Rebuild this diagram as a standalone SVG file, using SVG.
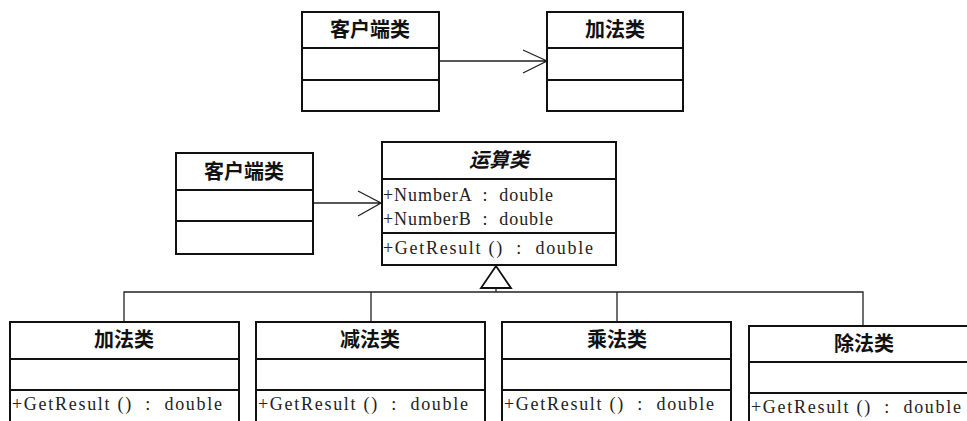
<svg xmlns="http://www.w3.org/2000/svg" width="967" height="421" viewBox="0 0 967 421">
<style>
.box{fill:#fff;stroke:#111;stroke-width:2}
.div{stroke:#111;stroke-width:2}
.ln{fill:none;stroke:#222;stroke-width:1.3}
.t{font-family:"Noto Sans CJK SC","Noto Sans CJK JP",sans-serif;font-size:20px;font-weight:600;fill:#111;text-anchor:middle}
.ti{font-style:italic}
.m{font-family:"Liberation Serif","Noto Sans CJK SC",serif;font-size:18px;fill:#222;white-space:pre}
</style>
<rect width="967" height="421" fill="#fff"/>
<g id="connectors">
<path class="ln" d="M439 61H547M523 50L547 61L523 73"/>
<path class="ln" d="M313 203H381M358 191L381 203L358 216"/>
<path class="ln" d="M496 288V292M124 322V292H863V326M371 292V322M617 292V322"/>
<polygon points="496,266 481,288 511,288" fill="#fff" stroke="#111" stroke-width="1.8"/>
</g>
<g id="client1">
<rect class="box" x="302" y="12" width="137" height="99"/>
<path class="div" d="M302 48H439M302 80H439"/>
<text class="t" x="370" y="37">客户端类</text>
</g>
<g id="add1">
<rect class="box" x="547" y="12" width="136" height="99"/>
<path class="div" d="M547 48H683M547 80H683"/>
<text class="t" x="615" y="37">加法类</text>
</g>
<g id="client2">
<rect class="box" x="176" y="153" width="137" height="101"/>
<path class="div" d="M176 190H313M176 221H313"/>
<text class="t" x="244" y="179">客户端类</text>
</g>
<g id="operation">
<rect class="box" x="382" y="142" width="234" height="123"/>
<path class="div" d="M382 179H616M382 233H616"/>
<text class="t ti" x="499" y="167">运算类</text>
<text class="m" x="383" y="201" textLength="170" lengthAdjust="spacing">+NumberA  :  double</text>
<text class="m" x="383" y="225" textLength="170" lengthAdjust="spacing">+NumberB  :  double</text>
<text class="m" x="383" y="254" textLength="210" lengthAdjust="spacing">+GetResult ()  :  double</text>
</g>
<g id="add2">
<rect class="box" x="10" y="322" width="229" height="110"/>
<path class="div" d="M10 359H239M10 390H239"/>
<text class="t" x="124" y="347">加法类</text>
<text class="m" x="12" y="410" textLength="210" lengthAdjust="spacing">+GetResult ()  :  double</text>
</g>
<g id="sub">
<rect class="box" x="256" y="322" width="229" height="110"/>
<path class="div" d="M256 359H485M256 390H485"/>
<text class="t" x="370" y="347">减法类</text>
<text class="m" x="258" y="410" textLength="210" lengthAdjust="spacing">+GetResult ()  :  double</text>
</g>
<g id="mul">
<rect class="box" x="502" y="322" width="229" height="110"/>
<path class="div" d="M502 359H731M502 390H731"/>
<text class="t" x="617" y="347">乘法类</text>
<text class="m" x="504" y="410" textLength="210" lengthAdjust="spacing">+GetResult ()  :  double</text>
</g>
<g id="div">
<rect class="box" x="749" y="326" width="231" height="110"/>
<path class="div" d="M749 362H980M749 393H980"/>
<text class="t" x="864" y="351">除法类</text>
<text class="m" x="751" y="413" textLength="210" lengthAdjust="spacing">+GetResult ()  :  double</text>
</g>
</svg>
